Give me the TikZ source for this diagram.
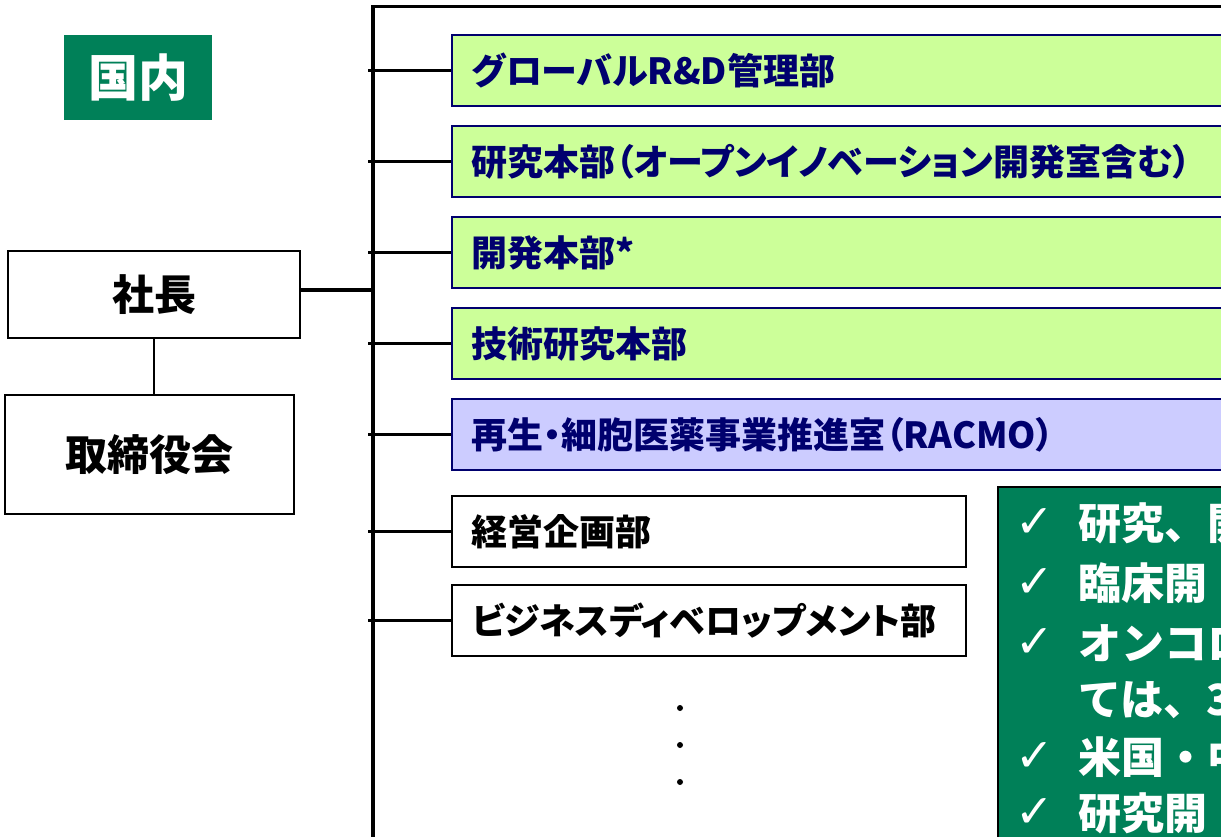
\documentclass[tikz,border=0pt]{standalone}
\usepackage{fontspec}
\setmainfont{Noto Sans CJK JP}
\newfontfamily\propfont{Noto Sans CJK JP}[RawFeature=+palt]
\newfontfamily\checkfont{DejaVu Sans}
\usetikzlibrary{positioning}
\definecolor{kokunai}{RGB}{0,128,88}
\definecolor{leaf}{RGB}{204,255,153}
\definecolor{lilac}{RGB}{204,204,255}
\definecolor{navy}{RGB}{0,0,110}

\tikzset{
	dept/.style={draw=navy, line width=1.5pt, anchor=west, text width=810pt, inner xsep=20pt, minimum height=71pt, align=left, text=navy, font=\propfont\bfseries\fontsize{36}{40}\selectfont},
	staff/.style={draw, line width=1.5pt, anchor=west, text width=474pt, inner xsep=20pt, minimum height=71pt, align=left, font=\propfont\bfseries\fontsize{36}{40}\selectfont},
	head/.style={draw, line width=1.2pt, font=\bfseries\fontsize{42}{46}\selectfont},
	bus/.style={line width=3.5pt},
	tick/.style={line width=3pt},
	note/.style={white, anchor=west, inner sep=0pt, font=\bfseries\fontsize{43}{46}\selectfont},
	tickmark/.style={white, inner sep=0pt, font=\checkfont\fontsize{46}{48}\selectfont},
	dot/.style={circle, fill, inner sep=0pt, minimum size=6pt},
}

\begin{document}
\begin{tikzpicture}[x=1pt, y=-1pt]
				\useasboundingbox (0,0) rectangle (1221,836);
				\node[fill=kokunai, text=white, minimum width=148pt, minimum height=85pt, font=\bfseries\fontsize{50}{54}\selectfont] (kokunai) at (138,77.5) {国内};
				\node[head, minimum width=292pt, minimum height=87pt] (ceo) at (154,294.5) {社長};
				\node[head, minimum width=289pt, minimum height=119pt] (board) at (149.5,454.5) {取締役会};
				\coordinate (bustop) at (373,6);
				\coordinate (busbot) at (373,845);
				\coordinate (topend) at (1240,6);
				\node[dept, fill=leaf] (g1) at (451,70.5) {グローバルR\&D管理部};
				\node[dept, fill=leaf] (g2) at (451,161.5) {研究本部（オープンイノベーション開発室含む）};
				\node[dept, fill=leaf] (g3) at (451,252.5) {開発本部*};
				\node[dept, fill=leaf] (g4) at (451,343.5) {技術研究本部};
				\node[dept, fill=lilac] (g5) at (451,434.5) {再生・細胞医薬事業推進室（RACMO）};
				\node[staff] (s1) at (451,531.5) {経営企画部};
				\node[staff] (s2) at (451,620.5) {ビジネスディベロップメント部};
				\node[dot] (d1) at (680,708) {};
				\node[dot] (d2) at (680,745) {};
				\node[dot] (d3) at (680,782) {};
				\node[draw, fill=kokunai, line width=2pt, anchor=north west, minimum width=300pt, minimum height=400pt] (memo) at (997,486) {};
				\node[tickmark] (c1) at (1035,523) {✓};
				\node[tickmark] (c2) at (1035,583) {✓};
				\node[tickmark] (c3) at (1035,643) {✓};
				\node[tickmark] (c5) at (1035,757) {✓};
				\node[tickmark] (c6) at (1035,813) {✓};
				\node[note] (m1) at (1078,523) {研究、開};
				\node[note] (m2) at (1078,583) {臨床開};
				\node[note] (m3) at (1078,643) {オンコロ};
				\node[note] (m4) at (1078,700) {ては、3};
				\node[note] (m5) at (1078,757) {米国・中};
				\node[note] (m6) at (1078,813) {研究開};
				\draw[bus] (bustop) to (busbot);
				\draw[tick] ([xshift=-1.75pt]bustop) to (topend);
				\draw[bus] ([yshift=4.5pt]ceo.east) to ([yshift=4.5pt]ceo.east -| bustop);
				\draw[line width=1.2pt] (ceo.south) to (ceo.south |- board.north);
				\draw[tick] (g1.west) to ([xshift=-5pt]g1.west -| bustop);
				\draw[tick] (g2.west) to ([xshift=-5pt]g2.west -| bustop);
				\draw[tick] (g3.west) to ([xshift=-5pt]g3.west -| bustop);
				\draw[tick] (g4.west) to ([xshift=-5pt]g4.west -| bustop);
				\draw[tick] (g5.west) to ([xshift=-5pt]g5.west -| bustop);
				\draw[tick] (s1.west) to ([xshift=-5pt]s1.west -| bustop);
				\draw[tick] (s2.west) to ([xshift=-5pt]s2.west -| bustop);
			\end{tikzpicture}
\end{document}
